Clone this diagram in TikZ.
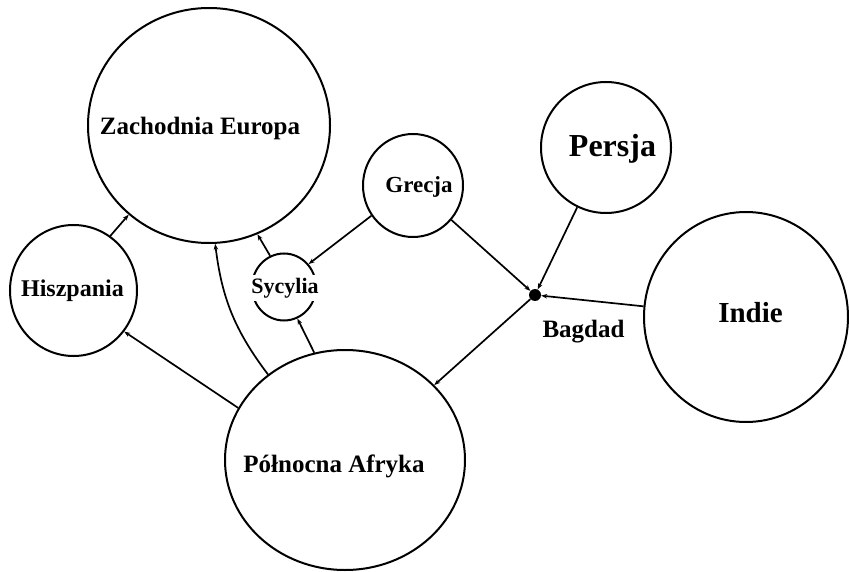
\documentclass[tikz,border=0pt]{standalone}
\usepackage{fontspec}
\setmainfont{Liberation Serif}
\usetikzlibrary{shapes.geometric,arrows.meta}
\begin{document}
\begin{tikzpicture}[x=1pt,y=-1pt,
  region/.style={ellipse,draw,line width=2pt,inner sep=0pt},
  lbl/.style={anchor=base,inner sep=0pt,font=\bfseries\fontsize{#1}{#1}\selectfont},
  conn/.style={line width=1.7pt,-{Stealth[length=6pt,width=4.5pt]}}]
\useasboundingbox (0,0) rectangle (849,572);
% regions
\node[region,minimum width=242pt,minimum height=235pt] (ZE) at (209,125.5) {};
\node[region,minimum width=100pt,minimum height=103pt] (GR) at (413,185.5) {};
\node[region,minimum width=130pt,minimum height=131pt] (PE) at (606,147.5) {};
\node[region,minimum width=204pt,minimum height=210pt] (IN) at (746,317) {};
\node[region,minimum width=127pt,minimum height=131pt] (HI) at (73.5,290.5) {};
\node[region,minimum width=64pt,minimum height=67pt] (SY) at (284,287) {};
\node[region,minimum width=240pt,minimum height=220pt] (PA) at (345,460) {};
\node[circle,fill,inner sep=0pt,minimum size=12pt] (BG) at (535,295) {};
% labels
\node[lbl=25] (ZEt) at (200,135) {Zachodnia Europa};
\node[lbl=32] (PEt) at (612.5,157) {Persja};
\node[lbl=29] (INt) at (750.5,322) {Indie};
\node[lbl=25] (PAt) at (334,472) {Północna Afryka};
\node[lbl=24] (HIt) at (72.5,297) {Hiszpania};
\node[lbl=23] (GRt) at (419,193) {Grecja};
\node[lbl=22,fill=white,inner xsep=2pt,inner ysep=3pt] (SYt) at (285,293) {Sycylia};
\node[lbl=25] (BGt) at (583.5,337) {Bagdad};
% connectors
\draw[conn] (HI.56) -- (ZE.228);
\draw[conn] (PA.132) to[bend left=15] (ZE.273);
\draw[conn] (SY.114) -- (ZE.294);
\draw[conn] (GR.216) -- (SY.43);
\draw[conn] (PA.106) -- (SY.293);
\draw[conn] (PA.154) -- (HI.321);
\draw[conn] (GR) -- (BG);
\draw[conn] (PE) -- (BG);
\draw[conn] (IN) -- (BG);
\draw[conn] (BG) -- (PA.40);
\end{tikzpicture}
\end{document}
